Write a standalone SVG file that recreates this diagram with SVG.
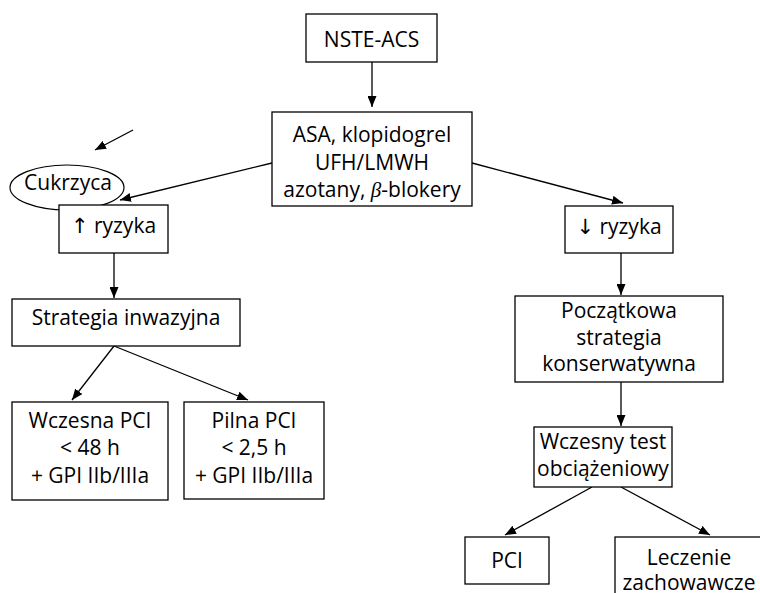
<svg xmlns="http://www.w3.org/2000/svg" width="760" height="593" viewBox="0 0 760 593">
<defs>
<marker id="ah" markerUnits="userSpaceOnUse" viewBox="0 0 11 9" refX="11" refY="4.5" markerWidth="11" markerHeight="9" orient="auto">
<path d="M0,0 L11,4.5 L0,9 z" fill="#000"/>
</marker>
<style>
.box{fill:#fff;stroke:#000;stroke-width:1.3}
.t{font-family:"Open Sans","Noto Sans","DejaVu Sans",sans-serif;font-size:21px;fill:#000;text-anchor:middle}
.c{stroke:#000;stroke-width:1.3;fill:none;marker-end:url(#ah)}
.beta{font-family:"Liberation Serif",serif;font-style:italic}
</style>
</defs>
<rect width="760" height="593" fill="#fff"/>
<g id="connectors">
<line class="c" x1="372" y1="62" x2="372" y2="107"/>
<line class="c" x1="272" y1="163" x2="120" y2="200"/>
<line class="c" x1="133" y1="130" x2="95" y2="150"/>
<line class="c" x1="114" y1="253" x2="114" y2="298"/>
<line class="c" x1="114" y1="346" x2="72" y2="400"/>
<line class="c" x1="114" y1="346" x2="248" y2="400"/>
<line class="c" x1="472" y1="163" x2="623" y2="203"/>
<line class="c" x1="621" y1="253" x2="621" y2="295"/>
<line class="c" x1="621" y1="382" x2="621" y2="426"/>
<line class="c" x1="592" y1="487" x2="505" y2="535"/>
<line class="c" x1="621" y1="487" x2="710" y2="535"/>
</g>
<g id="nste">
<rect class="box" x="306" y="14" width="131" height="48"/>
<text class="t" x="371.5" y="46.5">NSTE-ACS</text>
</g>
<g id="leki">
<rect class="box" x="272" y="112" width="200" height="94"/>
<text class="t" x="372" y="141.5">ASA, klopidogrel</text>
<text class="t" x="372" y="169.5">UFH/LMWH</text>
<text class="t" x="372" y="197">azotany, <tspan class="beta">β</tspan>-blokery</text>
</g>
<g id="cukrzyca">
<ellipse cx="67" cy="187.5" rx="57" ry="22.5" fill="#fff" stroke="#000" stroke-width="1.2"/>
<text class="t" x="68" y="190">Cukrzyca</text>
</g>
<g id="ryzyko-wysokie">
<rect class="box" x="59" y="205" width="109" height="48"/>
<text class="t" x="113.5" y="233">↑ ryzyka</text>
</g>
<g id="inwazyjna">
<rect class="box" x="12" y="299" width="228" height="47"/>
<text class="t" x="126" y="325">Strategia inwazyjna</text>
</g>
<g id="wczesna">
<rect class="box" x="12" y="402" width="156" height="98"/>
<text class="t" x="90" y="428">Wczesna PCI</text>
<text class="t" x="90" y="455">&lt; 48 h</text>
<text class="t" x="90" y="483">+ GPI IIb/IIIa</text>
</g>
<g id="pilna">
<rect class="box" x="184" y="402" width="140" height="97"/>
<text class="t" x="254" y="428">Pilna PCI</text>
<text class="t" x="254" y="455">&lt; 2,5 h</text>
<text class="t" x="254" y="483">+ GPI IIb/IIIa</text>
</g>
<g id="ryzyko-niskie">
<rect class="box" x="565" y="206" width="108" height="47"/>
<text class="t" x="619" y="234">↓ ryzyka</text>
</g>
<g id="zachowawcza">
<rect class="box" x="515" y="296" width="208" height="86"/>
<text class="t" x="619" y="318">Początkowa</text>
<text class="t" x="619" y="345">strategia</text>
<text class="t" x="619" y="371">konserwatywna</text>
</g>
<g id="test">
<rect class="box" x="534" y="427" width="138" height="60"/>
<text class="t" x="603" y="449">Wczesny test</text>
<text class="t" x="603" y="476">obciążeniowy</text>
</g>
<g id="pci">
<rect class="box" x="465" y="537" width="84" height="47"/>
<text class="t" x="507" y="568">PCI</text>
</g>
<g id="leczenie">
<rect class="box" x="615" y="537" width="160" height="70"/>
<text class="t" x="689" y="565">Leczenie</text>
<text class="t" x="689" y="590">zachowawcze</text>
</g>
</svg>
